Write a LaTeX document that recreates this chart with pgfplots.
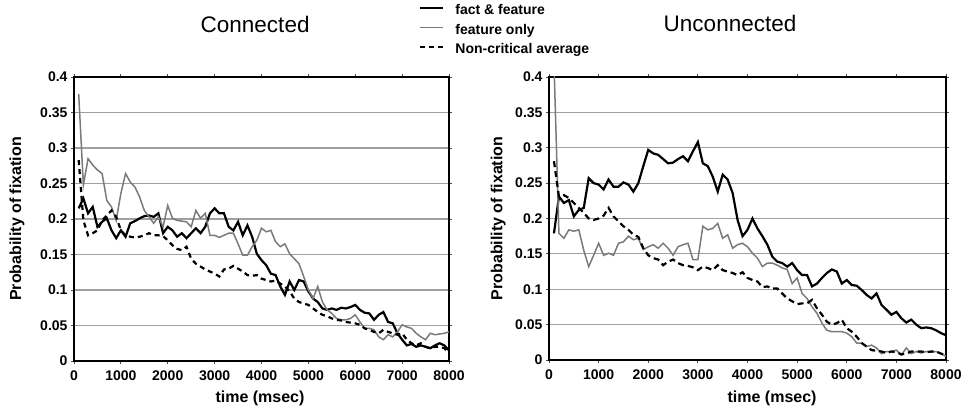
\documentclass[border=0pt]{standalone}
\usepackage{fontspec}
\setmainfont{Liberation Sans}
\usepackage{pgfplots}
\usepackage{pgfplotstable}
\pgfplotsset{compat=1.18}

\definecolor{gridgray}{HTML}{A0A0A0}
\definecolor{linegray}{HTML}{7A7A7A}

% t, fact & feature, feature only, non-critical average
\pgfplotstableread{
t ff fo nc
100 0.215 0.376 0.283
200 0.229 0.248 0.198
300 0.208 0.285 0.177
400 0.217 0.276 0.180
500 0.189 0.269 0.184
600 0.196 0.264 0.198
700 0.201 0.226 0.205
800 0.184 0.217 0.212
900 0.173 0.198 0.203
1000 0.184 0.236 0.184
1100 0.175 0.264 0.177
1200 0.194 0.252 0.175
1300 0.197 0.245 0.174
1400 0.201 0.231 0.175
1500 0.204 0.212 0.177
1600 0.205 0.203 0.180
1700 0.203 0.194 0.177
1800 0.208 0.203 0.177
1900 0.180 0.189 0.176
2000 0.189 0.219 0.170
2100 0.184 0.201 0.163
2200 0.175 0.198 0.158
2300 0.180 0.197 0.156
2400 0.173 0.196 0.161
2500 0.180 0.189 0.144
2600 0.187 0.212 0.137
2700 0.180 0.201 0.133
2800 0.189 0.208 0.129
2900 0.208 0.177 0.126
3000 0.215 0.177 0.123
3100 0.208 0.174 0.119
3200 0.208 0.177 0.129
3300 0.189 0.180 0.130
3400 0.184 0.180 0.134
3500 0.196 0.165 0.130
3600 0.177 0.149 0.126
3700 0.191 0.149 0.121
3800 0.175 0.161 0.120
3900 0.151 0.170 0.121
4000 0.142 0.187 0.116
4100 0.135 0.182 0.114
4200 0.123 0.184 0.112
4300 0.121 0.168 0.113
4400 0.105 0.161 0.109
4500 0.093 0.165 0.105
4600 0.112 0.151 0.098
4700 0.100 0.144 0.088
4800 0.114 0.137 0.083
4900 0.112 0.119 0.081
5000 0.098 0.100 0.079
5100 0.088 0.088 0.074
5200 0.083 0.105 0.069
5300 0.074 0.083 0.065
5400 0.072 0.072 0.063
5500 0.074 0.067 0.060
5600 0.072 0.060 0.058
5700 0.075 0.058 0.057
5800 0.074 0.058 0.055
5900 0.076 0.060 0.054
6000 0.079 0.065 0.053
6100 0.072 0.055 0.051
6200 0.068 0.046 0.046
6300 0.067 0.046 0.044
6400 0.058 0.044 0.041
6500 0.065 0.034 0.039
6600 0.069 0.030 0.044
6700 0.055 0.037 0.041
6800 0.053 0.034 0.039
6900 0.039 0.041 0.037
7000 0.030 0.051 0.039
7100 0.022 0.048 0.030
7200 0.024 0.046 0.025
7300 0.020 0.039 0.022
7400 0.022 0.034 0.025
7500 0.020 0.030 0.020
7600 0.018 0.039 0.018
7700 0.022 0.037 0.020
7800 0.025 0.038 0.020
7900 0.022 0.039 0.018
8000 0.015 0.041 0.011
}\connected

\pgfplotstableread{
t ff fo nc
100 0.179 0.420 0.281
200 0.231 0.179 0.231
300 0.222 0.172 0.233
400 0.226 0.184 0.229
500 0.203 0.182 0.222
600 0.212 0.184 0.215
700 0.215 0.155 0.208
800 0.257 0.132 0.200
900 0.250 0.148 0.198
1000 0.248 0.165 0.200
1100 0.241 0.148 0.204
1200 0.255 0.151 0.215
1300 0.245 0.148 0.203
1400 0.245 0.165 0.196
1500 0.251 0.167 0.189
1600 0.248 0.175 0.184
1700 0.238 0.170 0.177
1800 0.250 0.172 0.174
1900 0.274 0.156 0.158
2000 0.297 0.160 0.148
2100 0.292 0.163 0.144
2200 0.290 0.158 0.142
2300 0.284 0.165 0.134
2400 0.278 0.158 0.139
2500 0.279 0.148 0.142
2600 0.284 0.160 0.137
2700 0.288 0.163 0.134
2800 0.281 0.165 0.133
2900 0.295 0.142 0.131
3000 0.308 0.142 0.127
3100 0.278 0.189 0.132
3200 0.274 0.184 0.130
3300 0.259 0.186 0.127
3400 0.238 0.193 0.134
3500 0.262 0.172 0.127
3600 0.255 0.177 0.125
3700 0.236 0.158 0.123
3800 0.198 0.163 0.120
3900 0.175 0.165 0.124
4000 0.184 0.160 0.116
4100 0.200 0.151 0.113
4200 0.186 0.144 0.111
4300 0.175 0.132 0.103
4400 0.163 0.137 0.104
4500 0.146 0.137 0.101
4600 0.139 0.134 0.101
4700 0.137 0.130 0.094
4800 0.132 0.128 0.087
4900 0.137 0.108 0.083
5000 0.127 0.116 0.079
5100 0.120 0.094 0.080
5200 0.120 0.087 0.080
5300 0.104 0.075 0.085
5400 0.108 0.066 0.073
5500 0.116 0.052 0.064
5600 0.123 0.042 0.054
5700 0.128 0.040 0.050
5800 0.125 0.040 0.052
5900 0.108 0.040 0.057
6000 0.113 0.038 0.045
6100 0.106 0.033 0.040
6200 0.105 0.024 0.033
6300 0.099 0.024 0.024
6400 0.092 0.019 0.019
6500 0.087 0.021 0.014
6600 0.094 0.017 0.013
6700 0.078 0.009 0.012
6800 0.071 0.012 0.010
6900 0.064 0.012 0.012
7000 0.068 0.014 0.011
7100 0.059 0.007 0.008
7200 0.053 0.017 0.009
7300 0.057 0.009 0.012
7400 0.050 0.012 0.012
7500 0.045 0.010 0.012
7600 0.046 0.012 0.011
7700 0.045 0.011 0.012
7800 0.042 0.012 0.012
7900 0.038 0.009 0.009
8000 0.035 0.005 0.007
}\unconnected

\pgfplotsset{
  panel/.style={
    scale only axis,
    xmin=0, xmax=8000, ymin=0, ymax=0.4,
    xtick={0,1000,...,8000},
    xticklabels={0,1000,2000,3000,4000,5000,6000,7000,8000},
    ytick={0,0.05,...,0.4},
    yticklabels={0,0.05,0.1,0.15,0.2,0.25,0.3,0.35,0.4},
    ymajorgrids,
    major grid style={gridgray, line width=1.2pt},
    tick align=outside, major tick length=3pt,
    major tick style={black!70, line width=0.8pt},
    axis line style={black, line width=1.6pt},
    tick label style={font=\fontsize{14}{16}\selectfont\bfseries},
    xticklabel style={yshift=-3pt},
    yticklabel style={xshift=0pt},
    label style={font=\fontsize{16}{18}\selectfont\bfseries},
    title style={font=\fontsize{22.5}{26}\selectfont, anchor=base},
  },
  ffs/.style={black, line width=2.2pt},
  fos/.style={linegray, line width=1.5pt},
  ncs/.style={black, line width=2.2pt, dash pattern=on 6pt off 4pt},
}

\begin{document}
\begin{tikzpicture}
\useasboundingbox (0pt,0pt) rectangle (965pt,414pt);

\begin{axis}[panel,
  at={(74pt,53pt)}, anchor=south west,
  width=375pt, height=284pt,
  title={Connected},
  title style={at={(rel axis cs:0.483,1.137)}},
  xlabel={time (msec)},
  xlabel style={at={(rel axis cs:0.496,-0.130)}, anchor=center},
  ylabel={Probability of fixation},
  ylabel style={at={(rel axis cs:-0.152,0.5)}, anchor=center},
  legend style={at={(rel axis cs:0.920,1.258)}, anchor=north west,
    draw=none, fill=none, inner sep=0pt, row sep=4.5pt, column sep=10pt,
    font=\fontsize{14}{16}\selectfont\bfseries,
    nodes={inner sep=1pt, text height=10pt, text depth=3pt},
    cells={anchor=west}},
  legend image code/.code={\draw[#1] (0pt,3.5pt) -- (23pt,3.5pt);},
]
  \addplot[ffs] table[x=t, y=ff] {\connected};
  \addlegendentry{fact \& feature}
  \addplot[fos] table[x=t, y=fo] {\connected};
  \addlegendentry{feature only}
  \addplot[ncs, dash pattern=on 5pt off 4pt] table[x=t, y=nc] {\connected};
  \addlegendentry{Non-critical average}
\end{axis}

\begin{axis}[panel,
  at={(549pt,54pt)}, anchor=south west,
  width=397pt, height=283pt,
  title={Unconnected},
  title style={at={(rel axis cs:0.456,1.138)}},
  xlabel={time (msec)},
  xlabel style={at={(rel axis cs:0.562,-0.134)}, anchor=center},
  ylabel={Probability of fixation},
  ylabel style={at={(rel axis cs:-0.128,0.5)}, anchor=center},
]
  \addplot[ffs] table[x=t, y=ff] {\unconnected};
  \addplot[fos] table[x=t, y=fo] {\unconnected};
  \addplot[ncs] table[x=t, y=nc] {\unconnected};
\end{axis}
\end{tikzpicture}
\end{document}
